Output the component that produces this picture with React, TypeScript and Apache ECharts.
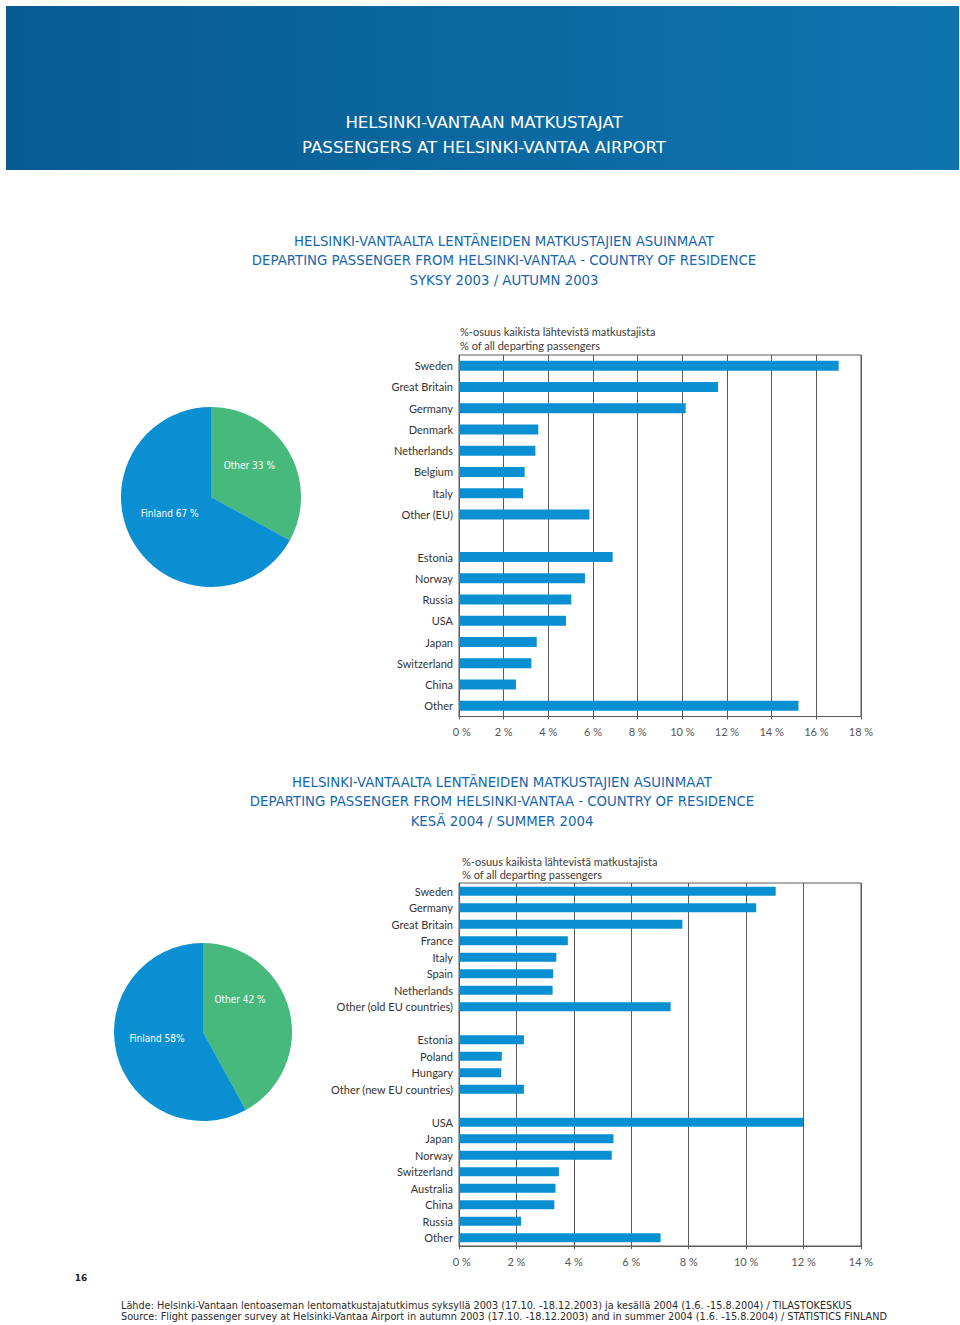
import React, { useEffect, useRef } from "react";
import * as echarts from "echarts";

// ---------- DATA ----------
const autumnEU = ["Sweden", "Great Britain", "Germany", "Denmark", "Netherlands", "Belgium", "Italy", "Other (EU)"];
const autumnEUValues = [17.0, 11.6, 10.15, 3.55, 3.42, 2.94, 2.87, 5.84];
const autumnNonEU = ["Estonia", "Norway", "Russia", "USA", "Japan", "Switzerland", "China", "Other"];
const autumnNonEUValues = [6.88, 5.64, 5.03, 4.79, 3.48, 3.24, 2.55, 15.2];
const autumnTicks = [0, 2, 4, 6, 8, 10, 12, 14, 16, 18];

const summerOldEU = ["Sweden", "Germany", "Great Britain", "France", "Italy", "Spain", "Netherlands", "Other (old EU countries)"];
const summerOldEUValues = [11.03, 10.35, 7.78, 3.79, 3.39, 3.28, 3.26, 7.37];
const summerNewEU = ["Estonia", "Poland", "Hungary", "Other (new EU countries)"];
const summerNewEUValues = [2.26, 1.49, 1.47, 2.26];
const summerOther = ["USA", "Japan", "Norway", "Switzerland", "Australia", "China", "Russia", "Other"];
const summerOtherValues = [11.98, 5.38, 5.32, 3.48, 3.36, 3.32, 2.16, 7.02];
const summerTicks = [0, 2, 4, 6, 8, 10, 12, 14];

const autumnPieNames = ["Other", "Finland"];
const autumnPieValues = [33, 67];
const autumnPieLabels = ["Other 33 %", "Finland 67 %"];
const summerPieNames = ["Other", "Finland"];
const summerPieValues = [42, 58];
const summerPieLabels = ["Other 42 %", "Finland 58%"];

const headerLines = ["HELSINKI-VANTAAN MATKUSTAJAT", "PASSENGERS AT HELSINKI-VANTAA AIRPORT"];
const autumnTitle = [
  "HELSINKI-VANTAALTA LENTÄNEIDEN MATKUSTAJIEN ASUINMAAT",
  "DEPARTING PASSENGER FROM HELSINKI-VANTAA - COUNTRY OF RESIDENCE",
  "SYKSY 2003 / AUTUMN 2003",
];
const summerTitle = [
  "HELSINKI-VANTAALTA LENTÄNEIDEN MATKUSTAJIEN ASUINMAAT",
  "DEPARTING PASSENGER FROM HELSINKI-VANTAA - COUNTRY OF RESIDENCE",
  "KESÄ 2004 / SUMMER 2004",
];
const axisCaption = ["%-osuus kaikista lähtevistä matkustajista", "% of all departing passengers"];
const footer = [
  "Lähde: Helsinki-Vantaan lentoaseman lentomatkustajatutkimus syksyllä 2003 (17.10. -18.12.2003) ja kesällä 2004 (1.6. -15.8.2004) / TILASTOKESKUS",
  "Source: Flight passenger survey at Helsinki-Vantaa Airport in autumn 2003 (17.10. -18.12.2003) and in summer 2004 (1.6. -15.8.2004) / STATISTICS FINLAND",
];
const pageNumber = "16";

// ---------- STYLE ----------
const BLUE = "#0b8fd3";
const GREEN = "#47b97c";
const TITLE_BLUE = "#1466ae";
const GRID = "#5a5a5a";
const HEAD_FONT = "'DejaVu Sans', sans-serif";
const LABEL_FONT = "Lato, 'Open Sans', sans-serif";
const PIE_FONT = "'DejaVu Sans Condensed', 'Liberation Sans Narrow', sans-serif";
const FOOT_FONT = "'Liberation Sans Narrow', 'DejaVu Sans Condensed', sans-serif";

export default function App() {
  const ref = useRef<HTMLDivElement>(null);

  useEffect(() => {
    if (!ref.current) return;
    const chart = echarts.init(ref.current, undefined, { renderer: "svg" });

    const autumnCats = [...autumnEU, "", ...autumnNonEU];
    const autumnVals = [...autumnEUValues, null, ...autumnNonEUValues];
    const summerCats = [...summerOldEU, "", ...summerNewEU, " ", ...summerOther];
    const summerVals = [...summerOldEUValues, null, ...summerNewEUValues, null, ...summerOtherValues];

    const texts: any[] = [];
    const addText = (text: string, x: number, y: number, opts: any) => {
      texts.push({
        type: "text",
        x,
        y,
        silent: true,
        style: { text, textVerticalAlign: "middle", ...opts },
      });
    };
    headerLines.forEach((t, i) =>
      addText(t, 484, 122 + i * 25, { fill: "#ffffff", fontSize: 16.6, fontFamily: HEAD_FONT, textAlign: "center" })
    );
    autumnTitle.forEach((t, i) =>
      addText(t, 504, 241 + i * 19.5, { fill: TITLE_BLUE, fontSize: 13.3, fontFamily: HEAD_FONT, textAlign: "center" })
    );
    summerTitle.forEach((t, i) =>
      addText(t, 502, 782 + i * 19.5, { fill: TITLE_BLUE, fontSize: 13.3, fontFamily: HEAD_FONT, textAlign: "center" })
    );
    axisCaption.forEach((t, i) =>
      addText(t, 460, 331 + i * 14, { fill: "#3a3a3a", fontSize: 11, fontFamily: LABEL_FONT, textAlign: "left" })
    );
    axisCaption.forEach((t, i) =>
      addText(t, 462, 861 + i * 13.5, { fill: "#3a3a3a", fontSize: 11, fontFamily: LABEL_FONT, textAlign: "left" })
    );
    footer.forEach((t, i) =>
      addText(t, 121, 1305 + i * 11.5, { fill: "#2a2a2a", fontSize: 10.8, fontFamily: FOOT_FONT, textAlign: "left" })
    );
    addText(pageNumber, 81, 1278, { fill: "#222", fontSize: 9, fontFamily: HEAD_FONT, fontWeight: "bold", textAlign: "center" });

    const xAxisBase = (ticks: number[], gridIndex: number, margin: number) => ({
      type: "value",
      gridIndex,
      min: ticks[0],
      max: ticks[ticks.length - 1],
      interval: ticks[1] - ticks[0],
      axisLine: { show: true, lineStyle: { color: GRID, width: 1 } },
      axisTick: { show: true, length: 3, lineStyle: { color: GRID } },
      splitLine: { show: true, lineStyle: { color: GRID, width: 1 } },
      axisLabel: {
        formatter: (v: number) => (v === ticks[0] ? "  " + v + " %" : v + " %"),
        color: "#555",
        fontSize: 11,
        fontFamily: LABEL_FONT,
        margin,
      },
    });
    const yAxisBase = (cats: string[], gridIndex: number) => ({
      type: "category",
      gridIndex,
      data: cats,
      inverse: true,
      axisLine: { show: true, lineStyle: { color: GRID, width: 1 } },
      axisTick: { show: false },
      splitLine: { show: false },
      axisLabel: { color: "#333", fontSize: 11, fontFamily: LABEL_FONT, margin: 6, interval: 0 },
    });

    const pieOffsets1 = [
      [-3, -7],
      [0, -8],
    ];
    const pieOffsets2 = [
      [-9, -21],
      [0, -5],
    ];
    const pieSeries = (names: string[], values: number[], labels: string[], center: number[], radius: number, offs: number[][]) => ({
      type: "pie",
      center,
      radius,
      startAngle: 90,
      clockwise: true,
      silent: true,
      emphasis: { disabled: true },
      labelLine: { show: false },
      label: { show: true, position: "inside", color: "#ffffff", fontSize: 10, fontFamily: PIE_FONT },
      labelLayout: (p: any) => ({ dx: offs[p.dataIndex][0], dy: offs[p.dataIndex][1] }),
      data: names.map((n, i) => ({
        name: n,
        value: values[i],
        itemStyle: { color: n === "Finland" ? BLUE : GREEN, borderWidth: 0 },
        label: { formatter: labels[i] },
      })),
    });

    chart.setOption({
      animation: false,
      backgroundColor: "#ffffff",
      graphic: [
        {
          type: "rect",
          silent: true,
          shape: { x: 6, y: 6, width: 953, height: 164 },
          style: {
            fill: new echarts.graphic.LinearGradient(0, 0, 1, 0, [
              { offset: 0, color: "#085b92" },
              { offset: 1, color: "#0e74ae" },
            ]),
          },
        },
        ...texts,
      ],
      grid: [
        { left: 459, top: 355, width: 402, height: 361.5, show: true, borderColor: GRID, borderWidth: 1, containLabel: false },
        { left: 459, top: 883, width: 402, height: 363, show: true, borderColor: GRID, borderWidth: 1, containLabel: false },
      ],
      xAxis: [xAxisBase(autumnTicks, 0, 9), xAxisBase(summerTicks, 1, 10)],
      yAxis: [yAxisBase(autumnCats, 0), yAxisBase(summerCats, 1)],
      series: [
        {
          type: "bar",
          xAxisIndex: 0,
          yAxisIndex: 0,
          data: autumnVals,
          barWidth: 10,
          silent: true,
          itemStyle: { color: BLUE },
        },
        {
          type: "bar",
          xAxisIndex: 1,
          yAxisIndex: 1,
          data: summerVals,
          barWidth: 9,
          silent: true,
          itemStyle: { color: BLUE },
        },
        pieSeries(autumnPieNames, autumnPieValues, autumnPieLabels, [211, 497], 90, pieOffsets1),
        pieSeries(summerPieNames, summerPieValues, summerPieLabels, [203, 1032], 89, pieOffsets2),
      ],
    });

    return () => chart.dispose();
  }, []);

  return (
    <div
      ref={ref}
      style={{ position: "absolute", left: 0, top: 0, width: 960, height: 1325 }}
    />
  );
}
